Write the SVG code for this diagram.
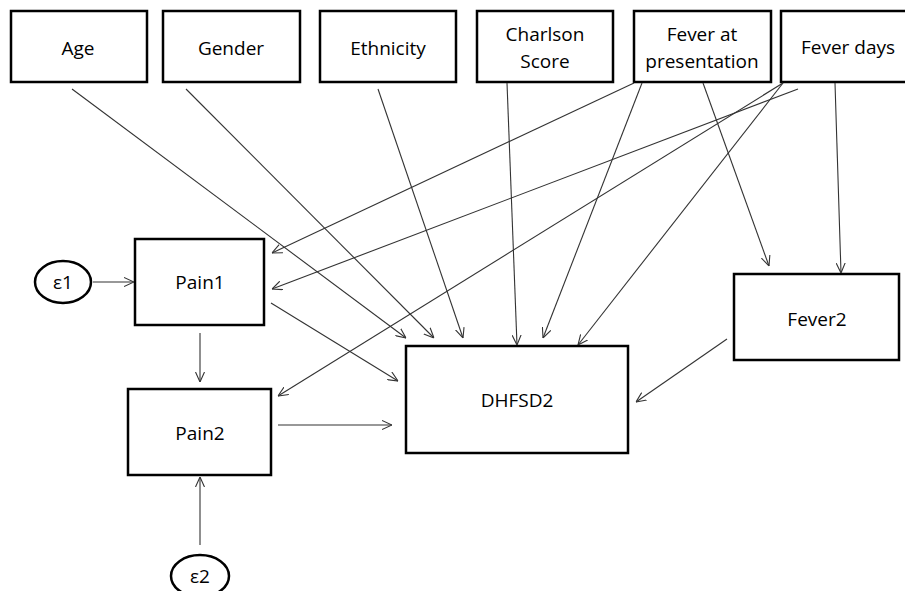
<svg xmlns="http://www.w3.org/2000/svg" width="905" height="591" viewBox="0 0 905 591">
<style>
.box{fill:#fff;stroke:#000;stroke-width:2.5}
.lbl{font-family:"Open Sans","Liberation Sans",sans-serif;font-size:19px;fill:#000;text-anchor:middle}
.c{fill:none;stroke:#333;stroke-width:1.1;marker-end:url(#ah)}
</style>
<defs>
<marker id="ah" viewBox="0 0 10 10" refX="10" refY="5" markerWidth="10" markerHeight="10" markerUnits="userSpaceOnUse" orient="auto">
<path d="M0,0.5 L10,5 L0,9.5" fill="none" stroke="#333" stroke-width="1.1"/>
</marker>
</defs>
<rect width="905" height="591" fill="#fff"/>
<g id="age"><rect class="box" x="11" y="11" width="136" height="71"/><text class="lbl" x="78" y="55">Age</text></g>
<g id="gender"><rect class="box" x="163" y="11" width="137" height="71"/><text class="lbl" x="231" y="55">Gender</text></g>
<g id="ethnicity"><rect class="box" x="320" y="11" width="136" height="71"/><text class="lbl" x="388" y="55">Ethnicity</text></g>
<g id="charlson"><rect class="box" x="477" y="11" width="136" height="71"/><text class="lbl" x="545" y="41">Charlson</text><text class="lbl" x="545" y="68">Score</text></g>
<g id="feverpres"><rect class="box" x="634" y="11" width="137" height="71"/><text class="lbl" x="702" y="41">Fever at</text><text class="lbl" x="702" y="68">presentation</text></g>
<g id="feverdays"><rect class="box" x="781" y="11" width="137" height="71"/><text class="lbl" x="848" y="54">Fever days</text></g>
<g id="pain1"><rect class="box" x="135" y="239" width="129" height="86"/><text class="lbl" x="200" y="289">Pain1</text></g>
<g id="pain2"><rect class="box" x="128" y="389" width="143" height="86"/><text class="lbl" x="200" y="440">Pain2</text></g>
<g id="dhfsd2"><rect class="box" x="406" y="346" width="222" height="107"/><text class="lbl" x="517" y="407">DHFSD2</text></g>
<g id="fever2"><rect class="box" x="734" y="274" width="165" height="86"/><text class="lbl" x="817" y="326">Fever2</text></g>
<g id="e1"><ellipse cx="63" cy="282" rx="28" ry="21" fill="#fff" stroke="#000" stroke-width="2.5"/><text class="lbl" x="63" y="289">ε1</text></g>
<g id="e2"><ellipse cx="200" cy="576" rx="29" ry="21" fill="#fff" stroke="#000" stroke-width="2.5"/><text class="lbl" x="200" y="583">ε2</text></g>
<g id="connectors">
<line class="c" x1="93" y1="282" x2="134" y2="282"/>
<line class="c" x1="200" y1="333" x2="200" y2="382"/>
<line class="c" x1="200" y1="545" x2="200" y2="477"/>
<line class="c" x1="278" y1="425" x2="392" y2="425"/>
<line class="c" x1="271" y1="303" x2="398" y2="381"/>
<line class="c" x1="72" y1="89" x2="406" y2="338"/>
<line class="c" x1="186" y1="89" x2="434" y2="338"/>
<line class="c" x1="378" y1="89" x2="463" y2="338"/>
<line class="c" x1="507" y1="83" x2="517" y2="345"/>
<line class="c" x1="642" y1="83" x2="543" y2="338"/>
<line class="c" x1="783" y1="83" x2="578" y2="345"/>
<line class="c" x1="634" y1="83" x2="272" y2="253"/>
<line class="c" x1="798" y1="89" x2="272" y2="289"/>
<line class="c" x1="783" y1="83" x2="278" y2="396"/>
<line class="c" x1="703" y1="83" x2="769" y2="266"/>
<line class="c" x1="835" y1="83" x2="841" y2="273"/>
<line class="c" x1="727" y1="339" x2="636" y2="402"/>
</g>
</svg>
